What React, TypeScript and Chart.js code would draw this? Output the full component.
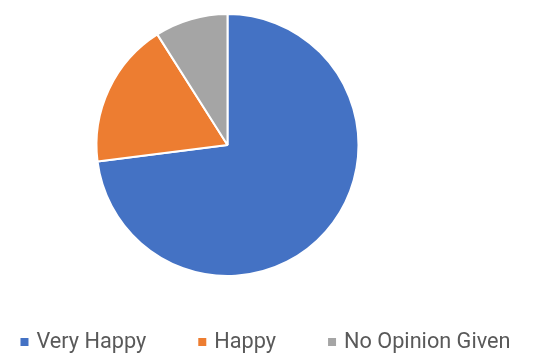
import React, { useEffect, useRef } from "react";
import { Chart, registerables } from "chart.js";

Chart.register(...registerables);

const categories = ["Very Happy", "Happy", "No Opinion Given"];
const values = [73, 18, 9];
const colors = ["#4472C4", "#ED7D31", "#A5A5A5"];

const FONT = "21.7px Roboto";

const legendPlugin = {
  id: "bottomLegend",
  afterDraw(chart: any) {
    const ctx = chart.ctx;
    const labels: string[] = chart.data.labels;
    const bg: string[] = chart.data.datasets[0].backgroundColor;
    ctx.save();
    ctx.font = FONT;
    ctx.textBaseline = "alphabetic";
    const box = 8;
    const gapText = 8;
    const gapItem = 52;
    const widths = labels.map((l) => box + gapText + ctx.measureText(l).width);
    const total = widths.reduce((a, b) => a + b, 0) + gapItem * (labels.length - 1);
    let x = 265.5 - total / 2;
    const baseline = 347.5;
    labels.forEach((l, i) => {
      ctx.fillStyle = bg[i];
      ctx.fillRect(x, 338, box, box);
      ctx.fillStyle = "#595959";
      ctx.textAlign = "left";
      ctx.fillText(l, x + box + gapText, baseline);
      x += widths[i] + gapItem;
    });
    ctx.restore();
  },
};

export default function App() {
  const ref = useRef<HTMLCanvasElement>(null);
  useEffect(() => {
    let chart: Chart | null = null;
    let cancelled = false;
    const make = () => {
      if (cancelled || !ref.current) return;
      chart = new Chart(ref.current, {
        type: "pie",
        data: {
          labels: categories,
          datasets: [
            {
              data: values,
              backgroundColor: colors,
              borderColor: "#ffffff",
              borderWidth: 2,
            },
          ],
        },
        options: {
          responsive: false,
          animation: false,
          layout: { padding: { top: 13, bottom: 76, left: 0, right: 80 } },
          plugins: {
            legend: { display: false },
            tooltip: { enabled: false },
          },
        },
        plugins: [legendPlugin],
      });
    };
    (document as any).fonts.load(FONT).then(make, make);
    return () => {
      cancelled = true;
      if (chart) chart.destroy();
    };
  }, []);
  return (
    <div style={{ position: "absolute", left: 0, top: 0, width: 535, height: 353, background: "#fff" }}>
      <canvas ref={ref} width={535} height={353} style={{ width: 535, height: 353 }} />
    </div>
  );
}
